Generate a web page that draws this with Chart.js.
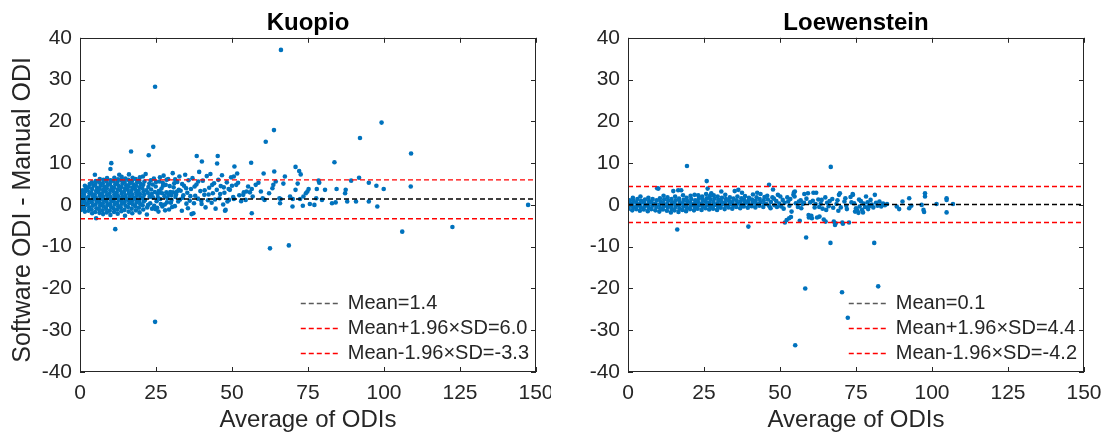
<!DOCTYPE html>
<html>
<head>
<meta charset="utf-8">
<title>Software vs manual ODI</title>
<script src="https://cdn.jsdelivr.net/npm/chart.js@4.4.0/dist/chart.umd.js"></script>
<style>
  html, body { margin: 0; padding: 0; background: #fff; }
  #wrap { position: relative; width: 1102px; height: 435px; overflow: hidden; }
  #wrap canvas { position: absolute; top: 0; }
</style>
</head>
<body>
<div id="wrap">
  <canvas id="kuopio" width="551" height="435" style="left:0"></canvas>
  <canvas id="loew" width="551" height="435" style="left:551px"></canvas>
</div>
<script>
// Bland-Altman plots: average of the two ODIs vs (software - manual)
const xRange = [0, 150];
const yRange = [-40, 40];
const xStep = 25;
const yStep = 10;

const kuopioMean = 1.4, kuopioUpper = 6.0, kuopioLower = -3.3;
const loewMean = 0.1, loewUpper = 4.4, loewLower = -4.2;

// one line in Avg matches the same line in Diff
const kuopioAvg = [
  0.3, 0.6, 0.4, 0.8, 0.5, 0.7, 1.0, 0.9,
  1.6, 1.4, 1.8, 1.5, 1.9, 1.3, 1.7, 2.0, 1.6,
  2.8, 3.0, 2.6, 2.9, 2.7, 3.1, 2.5, 2.9, 3.2,
  4.0, 3.8, 4.2, 3.9, 4.3, 4.1, 3.7, 4.0, 4.4, 3.9,
  5.3, 5.0, 5.4, 5.1, 5.5, 5.2, 4.9, 5.3, 5.6, 5.0, 5.2,
  6.4, 6.2, 6.6, 6.3, 6.7, 6.5, 6.1, 6.4, 6.8, 6.3, 6.5,
  7.6, 7.4, 7.8, 7.5, 7.9, 7.7, 7.3, 7.6, 8.0, 7.5, 7.7, 4.9,
  8.8, 8.6, 9.0, 8.7, 9.1, 8.9, 8.5, 8.8, 9.2, 8.7, 8.9,
  10.0, 9.8, 10.2, 9.9, 10.3, 10.1, 9.7, 10.0, 10.4, 9.9, 10.1, 10.3,
  11.2, 11.0, 11.4, 11.1, 11.5, 11.3, 10.9, 11.2, 11.6, 11.1, 11.3, 10.0, 11.6,
  12.4, 12.2, 12.6, 12.3, 12.7, 12.5, 12.1, 12.4, 12.8, 12.3, 12.5, 12.9,
  13.6, 13.4, 13.8, 13.5, 13.9, 13.7, 13.3, 13.6, 14.0, 13.5, 13.7,
  14.8, 14.6, 15.0, 14.7, 15.1, 14.9, 14.5, 14.8, 15.2, 14.7, 14.9,
  16.0, 15.8, 16.2, 15.9, 16.3, 16.1, 15.7, 16.0, 16.4, 15.9, 16.1, 16.8,
  17.2, 17.0, 17.4, 17.1, 17.5, 17.3, 16.9, 17.2, 17.6, 17.1, 17.3,
  18.4, 18.2, 18.6, 18.3, 18.7, 18.5, 18.1, 18.4, 18.8, 18.3,
  19.6, 19.4, 19.8, 19.5, 19.9, 19.7, 19.3, 19.6, 20.0, 19.5, 19.7,
  20.8, 20.6, 21.0, 20.7, 21.1, 20.9, 20.5, 20.8, 21.2, 20.7,
  21.6, 22.0, 22.3, 22.6, 22.8, 23.1, 23.4, 23.7, 24.0, 24.1,
  24.3, 24.7, 24.7, 24.9, 25.2, 25.5, 25.8, 26.1, 26.4, 26.8,
  27.1, 27.5, 27.8, 28.2, 28.6, 29.0, 29.3, 29.7, 30.1, 30.5,
  30.8, 31.2, 31.6, 32.0, 32.3, 32.7, 33.1, 33.5, 33.8, 34.2,
  34.6, 35.0, 35.3, 35.7, 36.1, 36.5, 36.7, 37.0, 37.3, 37.5,
  21.4, 21.8, 22.1, 22.5, 22.9, 23.3, 23.6, 24.4, 24.6, 25.0,
  25.4, 25.9, 26.3, 26.6, 27.0, 27.3, 28.0, 28.4, 28.8, 29.5,
  30.0, 30.3, 31.0, 31.4, 32.5,
  22.4, 23.0, 23.9, 24.8, 25.6, 26.2, 27.2, 27.9, 28.5, 29.1,
  29.9, 30.6, 31.3, 31.9, 32.9, 33.6, 34.0, 34.9, 35.5, 36.3,
  37.7, 38.9, 39.9, 41.0, 42.3, 43.5, 44.4, 46.1, 47.3, 49.0,
  37.9, 38.3, 38.4, 38.8, 39.2, 39.6, 40.0, 40.1, 40.4, 40.9,
  41.3, 41.7, 42.1, 42.5, 42.9, 43.3, 43.7, 44.1, 44.6, 45.0,
  45.1, 45.3, 45.5, 45.9, 46.3, 46.7, 47.1, 47.5, 47.9, 48.3,
  48.5, 48.9, 49.3, 49.7, 50.0, 50.4, 50.6, 50.6, 50.8, 51.4,
  51.7, 52.0, 52.4, 53.0, 53.7, 53.9, 54.5, 54.8, 55.3, 55.9,
  56.3, 56.5, 56.5, 56.8, 57.8, 58.7, 59.5, 60.1, 60.4, 60.7,
  61.1, 62.2, 62.5, 63.3, 63.6, 63.8, 63.9, 64.4, 65.6, 65.8,
  66.0, 66.1, 66.9, 67.4, 68.7, 69.1, 69.9, 70.0, 70.9, 70.9,
  71.6, 72.1, 72.4, 72.6, 73.3, 73.5, 74.3, 74.8, 75.2, 75.6,
  77.1, 77.7, 77.9, 78.5, 78.7, 79.6, 80.6, 82.9, 83.7, 84.1,
  84.4, 87.2, 87.4, 87.9, 89.2, 90.8, 91.8, 92.1, 95.0, 95.0,
  97.5, 97.8, 99.2, 99.9, 106.0, 108.8, 108.9, 122.5, 147.4, 47.7
];
const kuopioDiff = [
  -1.2, -0.5, 0.1, 0.7, 1.3, 2.0, 2.8, 3.5,
  -1.6, -0.8, 0.0, 0.8, 1.6, 2.4, 3.2, 4.0, 4.6,
  -1.4, -0.6, 0.3, 1.1, 1.9, 2.7, 3.5, 4.3, 5.0,
  -2.0, -1.1, -0.2, 0.6, 1.4, 2.2, 3.0, 3.8, 4.6, 5.4,
  -3.2, -1.7, -0.8, 0.1, 0.9, 1.7, 2.5, 3.3, 4.1, 4.9, 5.7,
  -1.9, -1.0, -0.2, 0.6, 1.4, 2.2, 3.0, 3.8, 4.6, 5.4, 6.2,
  -2.2, -1.3, -0.4, 0.4, 1.2, 2.0, 2.8, 3.6, 4.4, 5.2, 6.0, 7.2,
  -1.8, -0.9, 0.0, 0.8, 1.6, 2.4, 3.2, 4.0, 4.8, 5.6, 6.4,
  -2.4, -1.4, -0.5, 0.3, 1.1, 1.9, 2.7, 3.5, 4.3, 5.1, 5.9, 10.0,
  -1.7, -0.8, 0.1, 0.9, 1.7, 2.5, 3.3, 4.1, 4.9, 5.7, 6.5, 8.6, -5.8,
  -2.1, -1.1, -0.3, 0.5, 1.3, 2.1, 2.9, 3.7, 4.5, 5.3, 6.1, 7.2,
  -1.5, -0.6, 0.3, 1.1, 1.9, 2.7, 3.5, 4.3, 5.1, 5.9, 6.7,
  -2.6, -1.2, -0.2, 0.7, 1.5, 2.3, 3.1, 3.9, 4.7, 5.5, 6.3,
  -1.6, -0.5, 0.4, 1.2, 2.0, 2.8, 3.6, 4.4, 5.2, 6.0, 7.3, 12.8,
  -2.0, -0.9, 0.1, 0.9, 1.7, 2.5, 3.3, 4.1, 4.9, 5.7, 6.5,
  -1.3, -0.3, 0.6, 1.4, 2.2, 3.0, 3.8, 4.6, 5.4, 6.2,
  -1.8, -0.7, 0.2, 1.0, 1.8, 2.6, 3.4, 4.2, 5.0, 5.8, 6.6,
  -1.1, -0.1, 0.8, 1.6, 2.4, 3.2, 4.0, 4.8, 5.6, 6.8,
  7.4, -2.3, 2.9, 11.9, 5.1, 0.4, 3.7, -0.9, 1.8, 13.9,
  6.3, 28.3, -28.0, 4.4, 0.9, 2.6, -1.6, 5.6, 1.4, 3.9,
  -0.4, 7.0, 2.1, 4.8, 0.6, 6.2, -1.1, 3.1, 1.2, 7.6,
  4.2, -0.3, 2.5, 5.5, 0.8, 6.8, 3.4, -1.4, 1.7, 4.6,
  7.2, 0.3, 2.9, 5.9, 1.0, 3.8, -2.2, 6.4, -2.0, 0.4,
  1.2, 3.5, -0.6, 4.3, 1.9, 5.9, 2.6, -0.2, 3.1, 5.5,
  -0.7, 3.3, 6.6, 0.2, 2.8, 4.6, -1.3, 3.0, 1.6, 4.5,
  2.3, -0.5, 5.2, 1.9, 3.6,
  0.0, 2.2, 4.9, -1.0, 1.8, 3.0, 5.3, 0.1, 6.0, 2.4,
  0.5, 3.0, 6.1, 3.2, 1.3, 5.0, 2.3, 4.0, -0.8, 2.1,
  4.4, 5.6, 1.0, 3.5, 2.5, 4.8, 1.3, 2.6, 4.2, 1.2,
  2.2, 4.9, 11.7, 1.5, 7.9, 3.3, 0.2, 10.4, 5.8, 2.4,
  -0.6, 6.9, 1.1, 4.1, 7.4, 0.5, 2.8, 5.2, -0.9, 3.6,
  9.9, 11.7, 6.0, 1.6, 4.5, 7.1, 0.1, 2.9, -1.2, 5.4,
  0.8, 3.8, 3.6, 6.6, 4.6, 1.9, 6.8, 1.4, 9.2, 4.8,
  7.5, 5.3, 2.3, 0.9, 2.4, 3.0, 1.2, 3.2, 4.4, 3.0,
  10.1, 3.8, -2.0, 2.0, 4.8, 5.3, 3.2, 1.6, 7.5, 1.2,
  15.1, 2.8, -10.4, 4.0, 4.8, 17.9, 8.0, 5.6, 1.6, 0.4,
  1.4, 37.1, 5.1, 6.8, -9.7, 2.0, -0.4, 1.4, 3.6, 9.1,
  5.1, 8.1, 1.4, 7.3, -0.2, 2.0, 2.8, 3.2, 3.8, 0.2,
  0.0, 1.6, 3.8, 5.8, 5.3, 1.2, 3.6, 0.4, 10.2, 0.6,
  3.8, 2.8, 3.6, 0.8, 5.8, 0.8, 6.5, 16.0, 5.3, 0.8,
  4.6, -0.4, 19.7, 3.8, -6.4, 4.4, 12.3, -5.3, 0.0, -1.4
];

const loewAvg = [
  0.2, 0.5, 0.3, 0.6,
  1.4, 1.7, 1.5, 1.8, 1.6,
  2.7, 3.0, 2.8, 3.1,
  3.9, 4.2, 4.0, 4.3, 4.1,
  5.2, 5.5, 5.3, 5.6,
  6.5, 6.8, 6.6, 6.9, 6.7,
  7.7, 8.0, 7.8, 8.1,
  9.0, 9.3, 9.1, 9.4, 9.6,
  10.3, 10.6, 10.4, 10.7, 10.5, 10.0,
  11.5, 11.8, 11.6, 11.9, 11.7,
  12.8, 13.1, 12.9, 13.2, 13.0,
  14.1, 14.4, 14.2, 14.5, 14.3, 14.9,
  15.3, 15.6, 15.4, 15.7, 15.5, 16.2,
  16.6, 16.9, 16.7, 17.0, 16.8, 16.5,
  17.9, 18.2, 18.0, 18.3, 18.1, 17.5,
  19.1, 19.4, 19.2, 19.5, 19.3, 19.4,
  20.4, 20.7, 20.5, 20.8, 20.6,
  21.7, 22.0, 21.8, 22.1, 21.9,
  22.9, 23.2, 23.0, 23.3, 23.1,
  24.2, 24.5, 24.3, 24.6, 24.4,
  25.5, 25.8, 25.6, 25.9, 25.9, 26.2, 25.7,
  26.7, 27.0, 26.8, 27.1, 26.9, 27.4,
  28.0, 28.3, 28.1, 28.4, 28.2,
  29.3, 29.6, 29.4, 29.7, 29.5,
  30.5, 30.8, 30.6, 30.9, 30.7,
  31.8, 32.1, 31.9, 32.2, 32.0,
  33.1, 33.4, 33.2, 33.5,
  34.3, 34.6, 34.4, 34.7, 35.1,
  35.6, 35.9, 35.7, 36.0, 36.3,
  36.9, 37.2, 37.0, 37.3, 37.5,
  38.1, 38.4, 38.2, 38.5,
  39.4, 39.7, 39.5, 39.8, 39.6,
  40.7, 41.0, 40.8, 41.1,
  41.9, 42.2, 42.0, 42.3, 42.5,
  43.2, 43.5, 43.3, 43.6,
  44.5, 44.8, 44.6, 44.9,
  45.5, 46.0, 46.4, 46.5, 47.0, 47.7, 47.5, 48.2, 48.8, 49.3,
  49.8, 50.4, 50.9, 51.6, 51.5, 52.2, 52.4, 53.0, 53.1, 53.6,
  53.8, 54.4, 54.6, 54.9, 54.8, 55.2, 55.0, 55.9, 56.5, 56.8,
  57.5, 58.0, 58.3, 58.6, 59.2, 59.4, 59.5, 59.9, 60.3, 60.5,
  61.0, 61.4, 61.9, 62.2, 62.6, 63.0, 63.4, 64.0, 64.4, 64.9,
  65.0, 65.5, 66.0, 66.6, 66.7, 67.2, 67.7, 68.1, 68.3, 68.6,
  69.4, 69.7, 70.0, 70.4, 70.5, 70.7, 71.2, 71.8, 72.3, 72.7,
  73.2, 73.9, 74.0, 74.4, 75.0, 75.4, 75.8, 76.2, 76.6, 77.0,
  77.5, 78.0, 78.3, 78.8, 79.3, 79.8, 80.2, 80.7, 81.0, 81.2,
  81.6, 82.1, 82.3, 82.7, 83.3, 83.9, 84.5, 85.2, 88.4, 89.2,
  90.3, 92.5, 93.2, 92.5, 96.6, 97.2, 97.4, 97.7, 97.7, 101.5,
  104.8, 104.8, 104.8, 106.9, 56.2, 57.0, 57.9, 58.7, 60.8, 61.7,
  62.9, 63.7, 65.2, 66.3, 67.5, 68.9, 69.2, 71.5, 72.0, 73.5,
  74.7, 76.0, 77.3, 79.0, 45.8, 46.9, 48.0, 49.0, 50.1, 51.2,
  52.7, 53.4
];
const loewDiff = [
  -0.9, -0.2, 0.5, 1.1,
  -1.3, -0.5, 0.3, 1.0, 1.7,
  -1.0, -0.2, 0.6, 1.4,
  -1.4, -0.6, 0.2, 1.0, 2.0,
  -1.1, -0.3, 0.5, 1.3,
  -1.5, -0.7, 0.1, 0.9, 1.7,
  -1.0, -0.2, 0.6, 1.4,
  -1.3, -0.5, 0.3, 1.1, 4.0,
  -1.6, -0.8, 0.0, 0.8, 1.6, 3.9,
  -1.1, -0.3, 0.5, 1.3, 2.2,
  -1.4, -0.6, 0.2, 1.0, 1.8,
  -1.8, -1.0, -0.2, 0.6, 1.4, 3.3,
  -1.3, -0.5, 0.3, 1.1, 2.0, -5.9,
  -1.7, -0.9, -0.1, 0.7, 1.5, 3.5,
  -1.2, -0.4, 0.4, 1.2, 2.3, 3.5,
  -1.5, -0.7, 0.1, 0.9, 1.7, 9.3,
  -1.0, -0.2, 0.6, 1.4, 2.2,
  -1.3, -0.5, 0.3, 1.1, 2.4,
  -0.9, -0.1, 0.7, 1.5, 2.3,
  -1.2, -0.4, 0.4, 1.2, 2.0,
  -0.8, 0.0, 0.8, 1.6, 5.7, 3.9, 2.6,
  -1.1, -0.3, 0.5, 1.3, 2.1, 2.8,
  -0.9, -0.1, 0.7, 1.5, 2.3,
  -1.2, -0.4, 0.4, 1.2, 2.0,
  -0.7, 0.1, 0.9, 1.7, 3.2,
  -1.0, -0.2, 0.6, 1.4, 2.4,
  -0.6, 0.2, 1.0, 1.8,
  -0.9, -0.1, 0.7, 1.5, 3.3,
  -0.5, 0.3, 1.1, 2.0, 3.6,
  -0.8, 0.0, 0.8, 1.6, 2.9,
  -0.4, 0.4, 1.2, 2.1,
  -0.7, 0.1, 0.9, 1.7, -5.2,
  -0.3, 0.5, 1.3, 2.5,
  -0.6, 0.2, 1.0, 1.8, 2.9,
  -0.2, 0.6, 1.4, 2.6,
  -0.5, 0.3, 1.1, 1.9,
  0.2, 1.3, 4.8, -0.3, 0.7, 3.7, 1.8, -0.1, 0.9, 2.4,
  0.3, -0.4, 1.2, -4.2, 0.5, -3.6, 1.8, -3.2, -0.2, -2.9,
  -1.6, 2.4, 3.0, 3.2, 2.0, 0.4, -33.6, -0.5, -3.8, 1.1,
  0.2, 2.6, -20.0, -7.8, 2.8, -2.4, -3.0, 0.6, -2.6, -3.2,
  2.9, -0.6, 2.9, -3.0, 1.3, -2.8, 0.3, -0.9, -3.5, 1.8,
  -4.0, 0.5, -0.3, -9.1, 9.1, 1.4, -4.0, -4.8, -4.4, 0.2,
  2.4, 2.8, -0.6, -20.9, -4.2, -4.5, 0.8, -0.2, -27.0, -4.2,
  1.9, 2.6, 2.4, 0.4, -0.8, -1.3, -1.9, -0.4, 0.9, -1.2,
  0.3, -0.5, 2.0, 0.6, -0.3, 1.2, 0.1, -0.6, -9.1, 2.4,
  0.5, -0.2, -19.5, 0.8, -0.4, 0.3, -0.1, 0.2, -0.4, -1.0,
  0.8, 1.6, -0.2, -0.8, 0.0, -1.2, -1.7, 2.8, 2.0, 0.2,
  1.6, 1.2, -1.8, 0.2, 0.8, -0.8, 0.5, 1.5, 1.0, 0.2,
  -0.5, 1.2, -1.2, 0.9, -0.7, 1.1, -1.4, 1.6, -1.0, 0.6,
  -1.6, 1.3, -1.8, -1.0, 2.2, -0.8, 1.5, -0.5, 2.0, -0.9,
  0.8, 1.4
];

const FONT = "'Liberation Sans', Arial, Helvetica, sans-serif";
const BLUE = '#0072BD';
const AXIS = '#262626';
const RED = 'rgb(255, 0, 0)';
Chart.defaults.font.family = FONT;

// MATLAB-style box with inward ticks on all four sides, legend inside the axes, y label
function boxPlugin(labels, yTitle) {
  const sampleColors = ['rgb(90, 90, 90)', RED, RED];
  return {
    id: 'box',
    afterDraw(chart) {
      const { ctx, chartArea: a } = chart;
      const { x, y } = chart.scales;
      ctx.save();
      ctx.strokeStyle = AXIS;
      ctx.lineWidth = 1;
      ctx.beginPath();
      x.ticks.forEach(t => {
        const p = Math.round(x.getPixelForValue(t.value)) + 0.5;
        ctx.moveTo(p, a.bottom); ctx.lineTo(p, a.bottom - 5);
        ctx.moveTo(p, a.top); ctx.lineTo(p, a.top + 5);
      });
      y.ticks.forEach(t => {
        const p = Math.round(y.getPixelForValue(t.value)) + 0.5;
        ctx.moveTo(a.left, p); ctx.lineTo(a.left + 5, p);
        ctx.moveTo(a.right, p); ctx.lineTo(a.right - 5, p);
      });
      ctx.stroke();
      ctx.strokeRect(Math.round(a.left) + 0.5, Math.round(a.top) + 0.5,
                     Math.round(a.width) - 1, Math.round(a.height) - 1);
      ctx.restore();

      // legend
      ctx.save();
      ctx.font = '20px ' + FONT;
      const w = Math.max(...labels.map(s => ctx.measureText(s).width));
      const tx = a.right - 7 - w;
      const rows = labels.map((s, i) => Math.round(a.bottom - 19 - (labels.length - 1 - i) * 25));
      ctx.lineWidth = 1.3;
      ctx.setLineDash([5, 3]);
      rows.forEach((ly, i) => {
        ctx.strokeStyle = sampleColors[i];
        ctx.beginPath();
        ctx.moveTo(tx - 47, ly + 0.5);
        ctx.lineTo(tx - 9, ly + 0.5);
        ctx.stroke();
      });
      ctx.setLineDash([]);
      ctx.textAlign = 'left';
      ctx.textBaseline = 'middle';
      ctx.fillStyle = AXIS;
      rows.forEach((ly, i) => ctx.fillText(labels[i], tx, ly + 0.5));
      ctx.restore();

      if (yTitle) {
        ctx.save();
        ctx.translate(23.5, (a.top + a.bottom) / 2 + 5);
        ctx.rotate(-Math.PI / 2);
        ctx.font = '25px ' + FONT;
        ctx.textAlign = 'center';
        ctx.textBaseline = 'middle';
        ctx.fillStyle = AXIS;
        ctx.fillText(yTitle, 0, 0);
        ctx.restore();
      }
    }
  };
}

function baPlot(id, title, avg, diff, mean, upper, lower, yTitle, axisWidth, padRight) {
  const points = avg.map((v, i) => ({ x: v, y: diff[i] }));
  const hline = (v, color) => ({
    data: [{ x: xRange[0], y: v }, { x: xRange[1], y: v }],
    showLine: true, borderColor: color, borderWidth: 1.4, borderDash: [5, 3],
    pointRadius: 0, order: 0
  });
  const labels = [
    'Mean=' + mean.toFixed(1),
    'Mean+1.96\u00d7SD=' + upper.toFixed(1),
    'Mean-1.96\u00d7SD=' + lower.toFixed(1)
  ];
  return new Chart(document.getElementById(id), {
    type: 'scatter',
    data: {
      datasets: [
        hline(mean, '#000000'),
        hline(upper, RED),
        hline(lower, RED),
        { data: points, backgroundColor: BLUE, borderWidth: 0, pointRadius: 2.3, order: 1 }
      ]
    },
    options: {
      responsive: false,
      animation: false,
      events: [],
      layout: { padding: { left: 0, right: padRight, top: 0, bottom: 0 } },
      plugins: {
        legend: { display: false },
        tooltip: { enabled: false },
        title: {
          display: true, text: title, fullSize: false, color: '#000',
          font: { size: 24, weight: 'bold' }, padding: { top: 9, bottom: 0 }
        }
      },
      scales: {
        x: {
          type: 'linear', min: xRange[0], max: xRange[1],
          grid: { display: false, drawTicks: false },
          border: { display: false },
          ticks: { stepSize: xStep, color: AXIS, font: { size: 21 }, padding: 9, maxRotation: 0, autoSkip: false },
          title: { display: true, text: 'Average of ODIs', color: AXIS, font: { size: 24 }, padding: { top: 0, bottom: 0 } },
          afterFit(s) { s.height = 63; s.paddingLeft = 0; s.paddingRight = 0; }
        },
        y: {
          type: 'linear', min: yRange[0], max: yRange[1],
          grid: { display: false, drawTicks: false },
          border: { display: false },
          ticks: { stepSize: yStep, color: AXIS, font: { size: 21 }, padding: 8, autoSkip: false },
          afterFit(s) { s.width = axisWidth; s.paddingTop = 0; s.paddingBottom = 0; }
        }
      }
    },
    plugins: [boxPlugin(labels, yTitle)]
  });
}

baPlot('kuopio', 'Kuopio', kuopioAvg, kuopioDiff, kuopioMean, kuopioUpper, kuopioLower,
       'Software ODI - Manual ODI', 80, 15);
baPlot('loew', 'Loewenstein', loewAvg, loewDiff, loewMean, loewUpper, loewLower,
       '', 77, 18);
</script>
</body>
</html>
